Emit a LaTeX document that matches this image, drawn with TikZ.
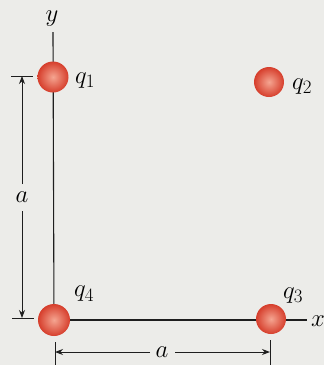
\documentclass[tikz,border=0pt]{standalone}
\usepackage{tikz}
\usetikzlibrary{arrows.meta}
\definecolor{paper}{RGB}{236,236,233}
\definecolor{ballout}{RGB}{214,62,44}
\definecolor{ballin}{RGB}{245,165,145}
\definecolor{ink}{RGB}{30,30,30}
\newcommand\chglabel[1]{$q_{\hbox{\fontsize{19}{20}\selectfont #1}}$}
\begin{document}
\begin{tikzpicture}[x=1bp,y=-1bp,
  ln/.style={draw=ink,line width=1.1bp},
  dim/.style={draw=ink,line width=1bp,-{Stealth[length=8bp,width=6bp]}},
  charge/.style={circle,minimum size=31bp,inner sep=0pt,inner color=ballin,outer color=ballout},
  lbl/.style={inner sep=0pt,font=\fontsize{24}{26}\selectfont},
  qlbl/.style={inner sep=0pt,font=\fontsize{28}{30}\selectfont}]
\fill[paper] (0,0) rectangle (324,365);
\useasboundingbox (0,0) rectangle (324,365);
% axis end points
\coordinate (ytop) at (53,32);
\coordinate (xend) at (307,320);
\coordinate (c1) at (53,77);
\coordinate (c2) at (269,82);
\coordinate (c3) at (271,319);
\coordinate (c4) at (54,320);
% axes
\draw[ln] (ytop) -- (c4);
\draw[ln] (c4) -- (xend);
% charges
\node[charge] (q1) at (c1) {};
\node[charge,minimum size=30bp] (q2) at (c2) {};
\node[charge,minimum size=30bp] (q3) at (c3) {};
\node[charge,minimum size=32bp] (q4) at (c4) {};
% labels
\node[lbl] (ly) at (52,19) {$y$};
\node[lbl] (lx) at (318,321) {$x$};
\node[qlbl] (l1) at (85,81) {\chglabel{1}};
\node[qlbl] (l2) at (302,87) {\chglabel{2}};
\node[qlbl] (l3) at (293,296) {\chglabel{3}};
\node[qlbl] (l4) at (84,294) {\chglabel{4}};
% vertical dimension
\coordinate (vt1) at (11,76); \coordinate (vt2) at (33,76);
\coordinate (vb1) at (12,318); \coordinate (vb2) at (34,318);
\draw[ln,line width=1bp] (vt1) -- (vt2);
\draw[ln,line width=1bp] (vb1) -- (vb2);
\node[lbl] (la) at (22,197) {$a$};
\coordinate (va) at (22,76); \coordinate (vb) at (22,318);
\draw[dim] (22,184) -- (va);
\draw[dim] (22,211) -- (vb);
% horizontal dimension
\coordinate (hl1) at (55,342); \coordinate (hl2) at (55,365);
\coordinate (hr1) at (270,340); \coordinate (hr2) at (270,365);
\draw[ln,line width=1bp] (hl1) -- (hl2);
\draw[ln,line width=1bp] (hr1) -- (hr2);
\node[lbl] (lb) at (162,352) {$a$};
\coordinate (ha) at (55,352); \coordinate (hb) at (270,352);
\draw[dim] (150,352) -- (ha);
\draw[dim] (175,352) -- (hb);
\end{tikzpicture}
\end{document}
